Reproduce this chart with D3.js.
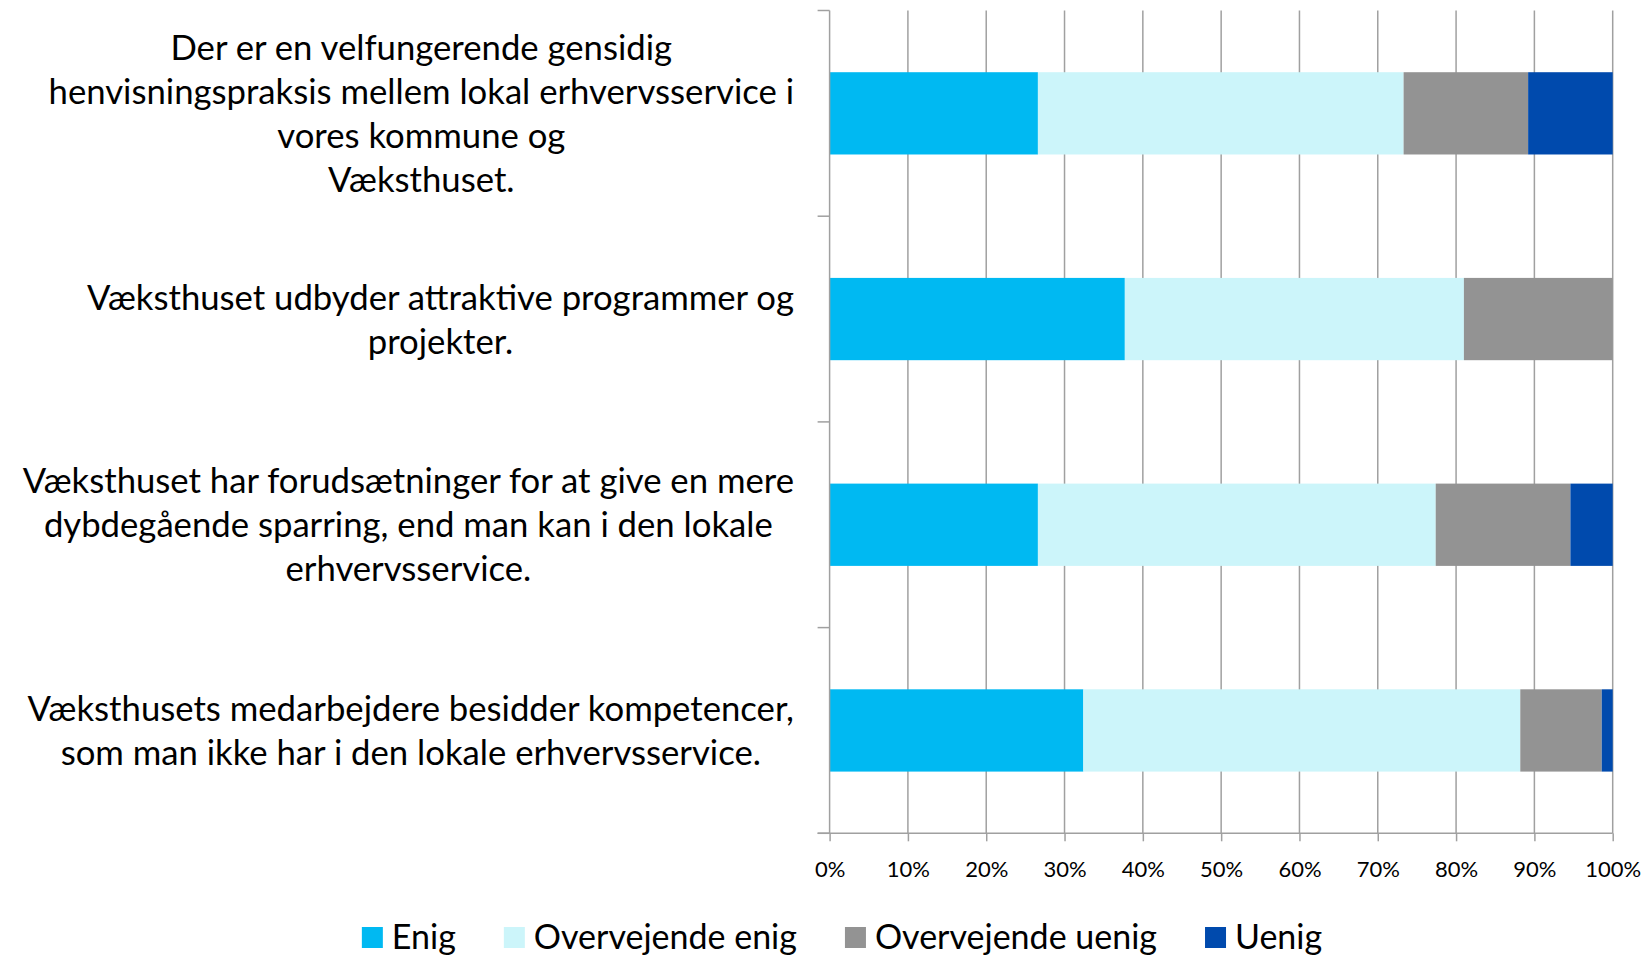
<!DOCTYPE html>
<html>
<head>
<meta charset="utf-8">
<script src="https://cdn.jsdelivr.net/npm/d3@7"></script>
<style>
  body { margin: 0; background: #fff; }
  svg { display: block; font-family: Lato, "Open Sans", sans-serif; }
</style>
</head>
<body>
<div id="chart"></div>
<script>

// Data

var categories = [
    [ "Der er en velfungerende gensidig", "henvisningspraksis mellem lokal erhvervsservice i", "vores kommune og", "Væksthuset." ],
    [ "Væksthuset udbyder attraktive programmer og", "projekter." ],
    [ "Væksthuset har forudsætninger for at give en mere", "dybdegående sparring, end man kan i den lokale", "erhvervsservice." ],
    [ "Væksthusets medarbejdere besidder kompetencer,", "som man ikke har i den lokale erhvervsservice." ]
];

var seriesNames = [ "Enig", "Overvejende enig", "Overvejende uenig", "Uenig" ];
var seriesColors = [ "#00b9f2", "#ccf5fa", "#939393", "#004aad" ];

var enig            = [ 26.6, 37.7, 26.6, 32.4 ];
var overvejendeEnig = [ 46.7, 43.3, 50.8, 55.8 ];
var overvejendeUenig= [ 15.9, 19.0, 17.2, 10.4 ];
var uenig           = [ 10.8,  0.0,  5.4,  1.4 ];

var tickValues = [ 0, 10, 20, 30, 40, 50, 60, 70, 80, 90, 100 ];

// Chart size

var width = 1644, height = 956;
var plotLeft = 829.6, plotRight = 1612.7, plotTop = 10.5, plotBottom = 833.3;

var svg = d3.select("#chart").append("svg")
    .attr("width", width)
    .attr("height", height);

var x = d3.scaleLinear().domain([ 0, 100 ]).range([ plotLeft, plotRight ]);

var y = d3.scaleBand()
    .domain(d3.range(categories.length))
    .range([ plotTop, plotBottom ])
    .paddingInner(0.6)
    .paddingOuter(0.3);

// Gridlines

svg.append("g")
    .selectAll("line")
    .data(tickValues.slice(1))
    .enter().append("line")
    .attr("x1", function ( d ) { return x(d); })
    .attr("x2", function ( d ) { return x(d); })
    .attr("y1", plotTop)
    .attr("y2", plotBottom)
    .style("stroke", "#a0a0a0")
    .style("stroke-width", 1.5);

// Stacked bars

var rows = categories.map(function ( c, i ) {
    return [ enig[i], overvejendeEnig[i], overvejendeUenig[i], uenig[i] ];
});

var keys = d3.range(seriesNames.length);
var stacked = d3.stack().keys(keys)(rows);

svg.append("g")
    .selectAll("g")
    .data(stacked)
    .enter().append("g")
    .style("fill", function ( d, i ) { return seriesColors[i]; })
    .selectAll("rect")
    .data(function ( d ) { return d; })
    .enter().append("rect")
    .attr("x", function ( d ) { return x(d[0]); })
    .attr("y", function ( d, i ) { return y(i); })
    .attr("width", function ( d ) { return x(d[1]) - x(d[0]); })
    .attr("height", y.bandwidth());

// X axis

var xAxis = svg.append("g")
    .attr("transform", "translate(0," + plotBottom + ")")
    .call(d3.axisBottom(x)
        .tickValues(tickValues)
        .tickSize(8)
        .tickFormat(function ( d ) { return d + "%"; }));

xAxis.select(".domain").remove();
xAxis.selectAll(".tick line").style("stroke", "#a0a0a0").style("stroke-width", 1.5);
xAxis.selectAll(".tick text")
    .attr("y", 0)
    .attr("dy", null)
    .attr("transform", "translate(0,44)")
    .style("font-family", "Lato, sans-serif")
    .style("font-size", "22px")
    .style("fill", "#000");

svg.append("line")
    .attr("x1", plotLeft - 12).attr("x2", plotRight)
    .attr("y1", plotBottom).attr("y2", plotBottom)
    .style("stroke", "#a0a0a0").style("stroke-width", 1.5);

// Y axis

svg.append("line")
    .attr("x1", plotLeft).attr("x2", plotLeft)
    .attr("y1", plotTop).attr("y2", plotBottom)
    .style("stroke", "#a0a0a0").style("stroke-width", 1.5);

svg.append("g")
    .selectAll("line")
    .data(d3.range(categories.length + 1))
    .enter().append("line")
    .attr("x1", plotLeft - 12).attr("x2", plotLeft)
    .attr("y1", function ( d ) { return plotTop + d * y.step(); })
    .attr("y2", function ( d ) { return plotTop + d * y.step(); })
    .style("stroke", "#a0a0a0").style("stroke-width", 1.5);

// Category labels

var lineHeight = 44;
var labelRight = 794;

categories.forEach(function ( lines, i ) {
    var g = svg.append("g");
    var cy = y(i) + y.bandwidth() / 2;
    var texts = g.selectAll("text")
        .data(lines)
        .enter().append("text")
        .attr("text-anchor", "middle")
        .attr("y", function ( d, j ) { return cy + (j - (lines.length - 1) / 2) * lineHeight; })
        .attr("dy", "0.36em")
        .style("font-size", "34.7px")
        .style("fill", "#000")
        .text(function ( d ) { return d; });
    var maxW = d3.max(texts.nodes(), function ( n ) { return n.getComputedTextLength(); });
    texts.attr("x", labelRight - maxW / 2);
});

// Legend

var legend = svg.append("g");
var items = legend.selectAll("g")
    .data(seriesNames)
    .enter().append("g");

items.append("rect")
    .attr("width", 21)
    .attr("height", 21)
    .attr("y", 927)
    .style("fill", function ( d, i ) { return seriesColors[i]; });

items.append("text")
    .attr("x", 30)
    .attr("y", 937)
    .attr("dy", "0.36em")
    .style("font-size", "34px")
    .style("fill", "#000")
    .text(function ( d ) { return d; });

var pos = 0, offsets = [];
items.each(function () {
    offsets.push(pos);
    pos += 30 + d3.select(this).select("text").node().getComputedTextLength() + 48;
});
var total = pos - 48;
var startX = 842 - total / 2;
items.attr("transform", function ( d, i ) { return "translate(" + (startX + offsets[i]) + ",0)"; });

</script>
</body>
</html>
